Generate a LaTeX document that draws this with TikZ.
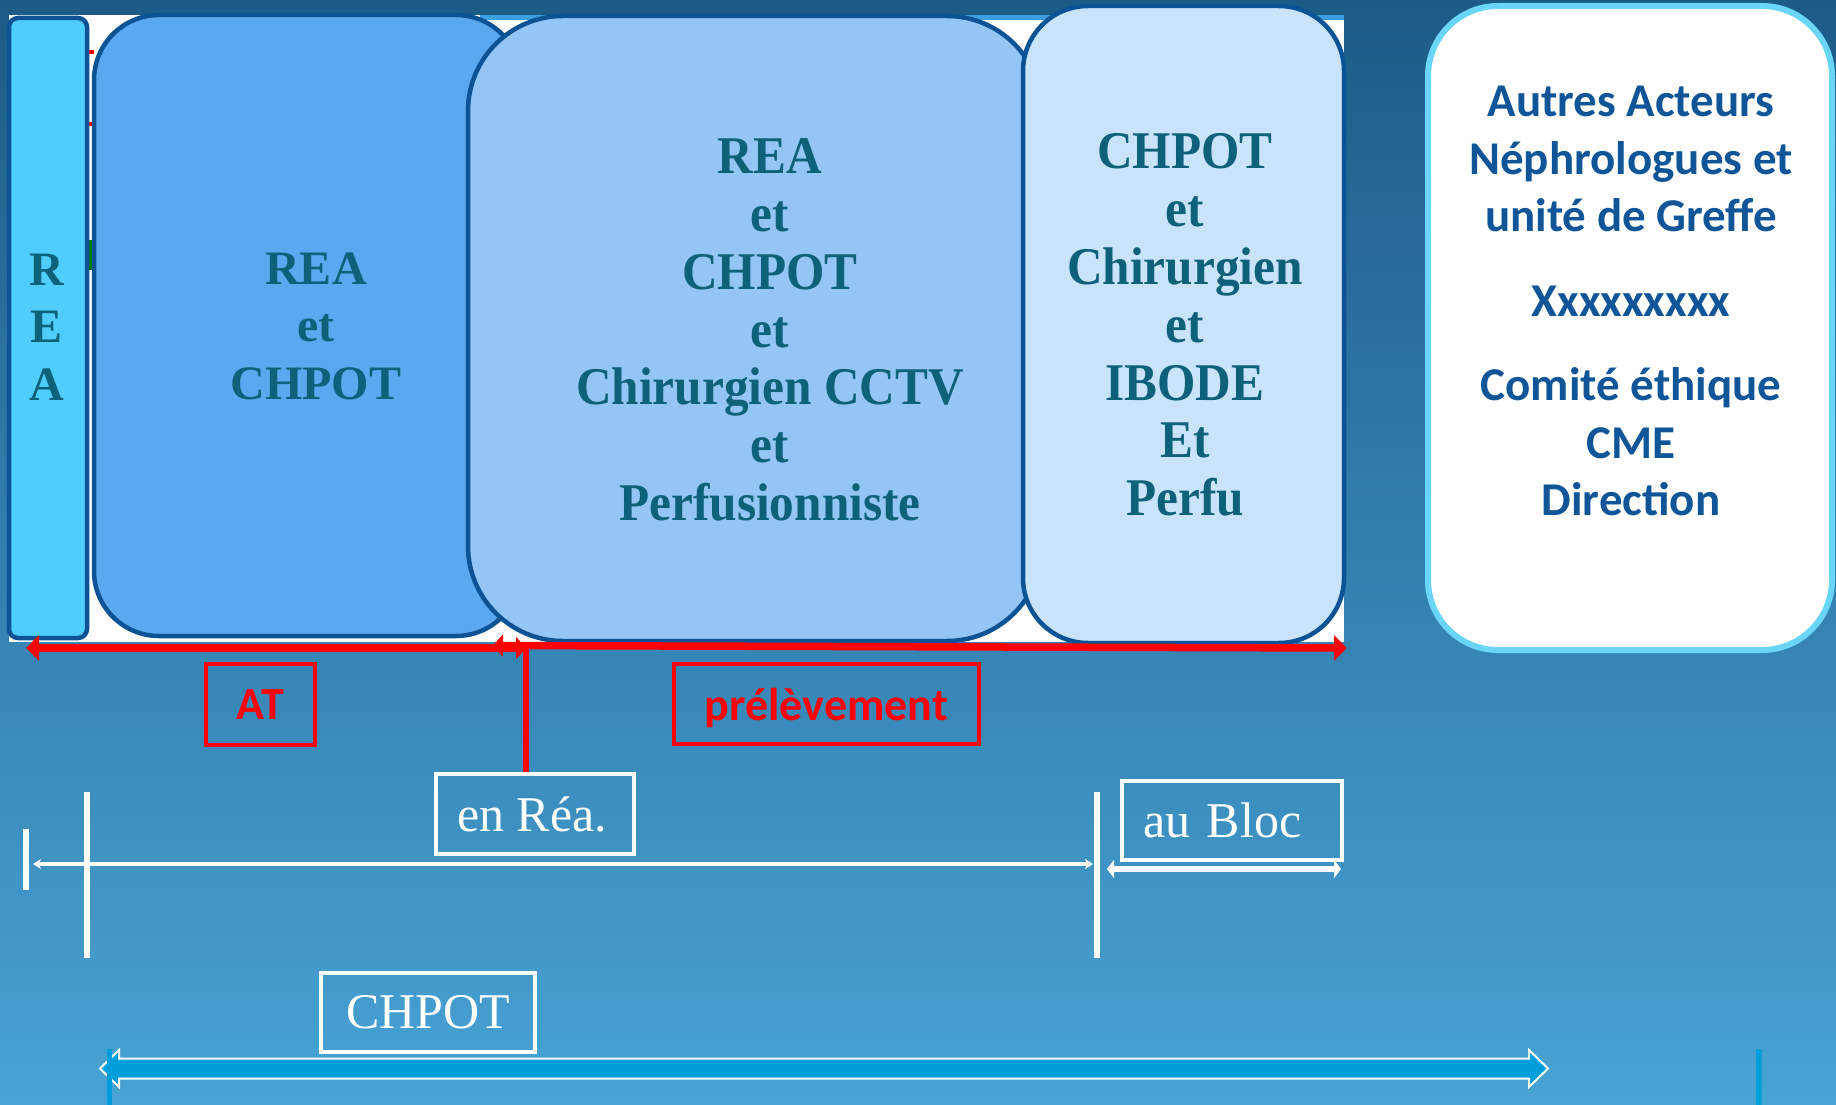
\documentclass[tikz,border=0pt]{standalone}
\usepackage{fontspec}
\setmainfont{Liberation Serif}
\newfontfamily\boxserif[FakeStretch=0.93]{Liberation Serif}
\newfontfamily\calib{Carlito}
\usetikzlibrary{arrows.meta}
\definecolor{bgtop}{HTML}{1C5B86}
\definecolor{bgmid}{HTML}{3D8FC0}
\definecolor{bgbot}{HTML}{48A3D5}
\definecolor{reafill}{HTML}{50CDFF}
\definecolor{bleuA}{HTML}{5AA8F0}
\definecolor{bleuB}{HTML}{93C5F5}
\definecolor{bleuC}{HTML}{C9E3FB}
\definecolor{bord}{HTML}{0B5394}
\definecolor{cyanb}{HTML}{6AD6F7}
\definecolor{tealt}{HTML}{0D6178}
\definecolor{navyt}{HTML}{0F5598}
\definecolor{arrowblue}{HTML}{009FDB}
\definecolor{shotband}{HTML}{3D9EE0}
\tikzset{
  panel/.style={draw=bord, line width=4.5pt, inner sep=0pt},
  serifbig/.style={text=tealt, align=center, font=\fontsize{48}{57.5}\selectfont\bfseries},
  serifcond/.style={text=tealt, align=center, font=\boxserif\fontsize{53}{57.8}\selectfont\bfseries},
  redbox/.style={draw=red, line width=4.5pt, text=red, inner sep=0pt, font=\calib\fontsize{46}{50}\selectfont\bfseries},
  whitebox/.style={draw=white, line width=4.5pt, text=white, inner sep=0pt, font=\fontsize{50}{55}\selectfont},
  redline/.style={draw=red, line width=7.5pt},
  wline/.style={draw=white, line width=3.5pt},
  wtick/.style={draw=white, line width=6pt},
}
\begin{document}
\begin{tikzpicture}[x=1pt,y=-1pt]
\useasboundingbox (0,0) rectangle (1836,1105);
% background
\shade[top color=bgtop, middle color=bgmid, bottom color=bgbot] (0,0) rectangle (1836,1105);
% screenshot behind the panels
\fill[white] (9,15) rectangle (1344,642);
\fill[shotband] (480,15) rectangle (1344,20);
\fill[red] (86,50) rectangle (94,54);
\fill[red] (86,122) rectangle (94,126);
\fill[green!50!black] (86,240) rectangle (94,270);

% panels
\node[panel, fill=reafill, rounded corners=9pt, minimum width=78pt, minimum height=620pt] (reabar) at (48,328) {};
\node[panel, fill=bleuA, rounded corners=65pt, minimum width=427pt, minimum height=621pt] (p2) at (307.5,325.5) {};
\node[panel, fill=bleuB, rounded corners=95pt, minimum width=574pt, minimum height=625pt] (p3) at (755,328.5) {};
\node[panel, fill=bleuC, rounded corners=65pt, minimum width=321pt, minimum height=637pt] (p4) at (1183.5,324.5) {};
\node[draw=cyanb, line width=6pt, fill=white, rounded corners=70pt, minimum width=404pt, minimum height=644pt, inner sep=0pt] (p5) at (1630,328) {};

% panel texts
\node[serifbig] (treabar) at (47,327) {R\\E\\A};
\node[serifbig] (t2) at (316,326) {REA\\et\\CHPOT};
\node[serifcond] (t3) at (770,330) {REA\\et\\CHPOT\\et\\Chirurgien CCTV\\et\\Perfusionniste};
\node[serifcond] (t4) at (1185,325) {CHPOT\\et\\Chirurgien\\et\\IBODE\\Et\\Perfu};
\node[text=navyt, align=center, font=\calib\fontsize{47}{57.5}\selectfont\bfseries] (t5) at (1631,301)
  {Autres Acteurs\\Néphrologues et\\unité de Greffe\\[27pt]Xxxxxxxxx\\[27pt]Comité éthique\\CME\\Direction};

% red labels
\node[redbox, minimum width=109pt, minimum height=81pt, text depth=0pt] (at) at (260.5,704.5) {AT};
\node[redbox, minimum width=305pt, minimum height=80pt, text depth=0pt] (prel) at (826.5,704) {prélèvement};

% white labels
\node[whitebox, minimum width=198pt, minimum height=80pt] (enrea) at (535,814) {en Réa.\hspace*{6pt}};
\node[whitebox, minimum width=220pt, minimum height=79pt, text width=178pt, inner xsep=21pt, align=left] (aubloc) at (1232,820.5) {au Bloc};
\node[whitebox, minimum width=214pt, minimum height=79pt] (chpot) at (428,1012.5) {CHPOT};

% red arrows
\coordinate (atL) at (26,648);
\coordinate (jn) at (526,648);
\coordinate (prL) at (493,645.5);
\coordinate (prR) at (1347,648);
\draw[redline, {Triangle[length=13pt,width=25pt]}-{Triangle[length=10pt,width=22pt]}] (atL) -- (jn);
\draw[redline, {Triangle[length=10pt,width=22pt]}-{Triangle[length=13pt,width=25pt]}] (prL) -- (prR);
\draw[draw=red, line width=6pt] (jn) -- (jn |- enrea.north);

% white timeline
\coordinate (tlL) at (33,864);
\coordinate (tlR) at (1093,864);
\draw[wline, {Stealth[length=8pt,width=10pt]}-{Stealth[length=8pt,width=10pt]}] (tlL) -- (tlR);
\coordinate (k1a) at (26,829); \coordinate (k1b) at (26,890);
\coordinate (k2a) at (87,792); \coordinate (k2b) at (87,958);
\coordinate (k3a) at (1097,792); \coordinate (k3b) at (1097,958);
\draw[wtick] (k1a) -- (k1b);
\draw[wtick] (k2a) -- (k2b);
\draw[wtick] (k3a) -- (k3b);
% au Bloc double arrow
\coordinate (abL) at (1107,869);
\coordinate (abR) at (1341,869);
\draw[draw=white, line width=6pt, {Triangle[length=7pt,width=18pt]}-{Triangle[length=7pt,width=18pt]}] (abL) -- (abR);

% big blue double arrow
\fill[arrowblue, draw=white, line width=2pt]
  (100,1068.5) -- (119,1050) -- (119,1058.5) -- (1529,1058.5) -- (1529,1050) -- (1548,1068.5)
  -- (1529,1087) -- (1529,1078.5) -- (119,1078.5) -- (119,1087) -- cycle;
\draw[draw=arrowblue, line width=5pt] (109,1049) -- (109,1105);
\draw[draw=arrowblue, line width=6pt] (1759,1049) -- (1759,1105);
\end{tikzpicture}
\end{document}
